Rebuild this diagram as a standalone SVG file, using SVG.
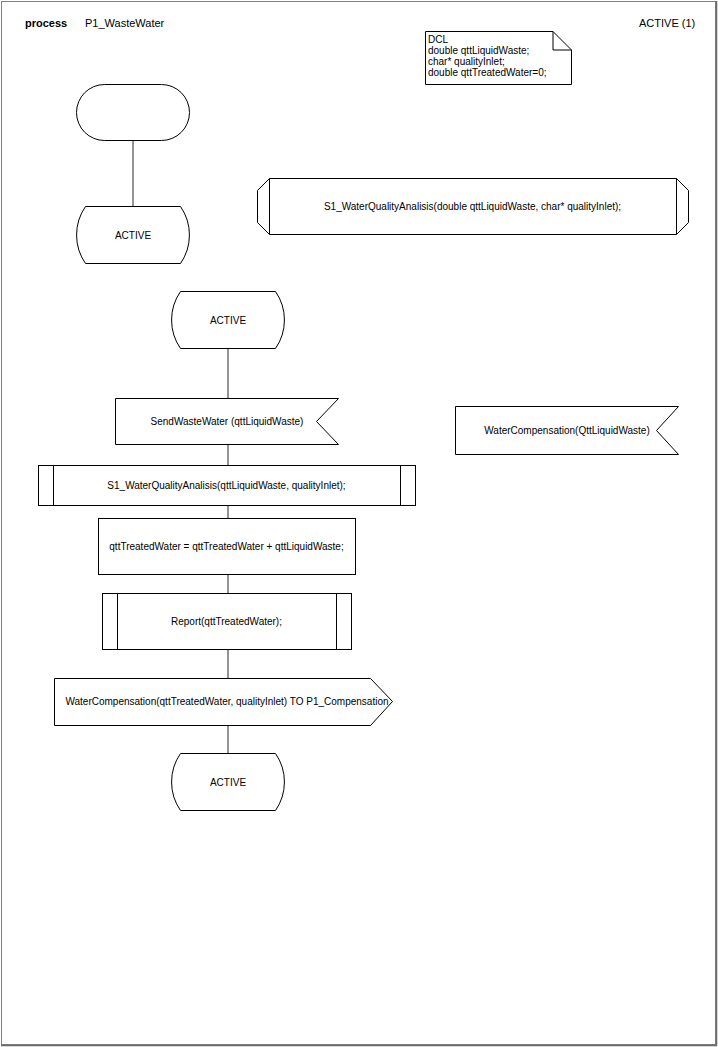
<svg xmlns="http://www.w3.org/2000/svg" width="718" height="1047" viewBox="0 0 718 1047">
<style>
.s{fill:#fff;stroke:#000;stroke-width:1}
.t{font-family:"Liberation Sans",Arial,sans-serif;font-size:10px;fill:#000;text-anchor:middle}
.l{font-family:"Liberation Sans",Arial,sans-serif;font-size:10px;fill:#000}
.h{font-family:"Liberation Sans",Arial,sans-serif;font-size:11px;fill:#000}
.c{fill:none;stroke:#707070;stroke-width:1.5}
</style>
<rect x="0" y="0" width="718" height="1047" fill="#fff"/>
<g id="frame">
<rect x="1.5" y="1.5" width="714" height="1043" fill="none" stroke="#808080" stroke-width="1"/>
<line x1="716.5" y1="1" x2="716.5" y2="1046" stroke="#6a6a6a" stroke-width="1.5"/>
<line x1="1" y1="1045.5" x2="717" y2="1045.5" stroke="#6a6a6a" stroke-width="1.5"/>
</g>
<g id="header">
<text class="h" x="25" y="27" font-weight="bold">process</text>
<text class="h" x="85" y="27">P1_WasteWater</text>
<text class="h" x="639" y="27">ACTIVE (1)</text>
</g>
<g id="connectors">
<line class="c" x1="133" y1="141" x2="133" y2="206"/>
<line class="c" x1="228" y1="348" x2="228" y2="398"/>
<line class="c" x1="228" y1="444" x2="228" y2="465"/>
<line class="c" x1="228" y1="506" x2="228" y2="518"/>
<line class="c" x1="228" y1="574" x2="228" y2="594"/>
<line class="c" x1="228" y1="650" x2="228" y2="678"/>
<line class="c" x1="228" y1="725" x2="228" y2="753"/>
</g>
<g id="dcl">
<path class="s" d="M425.5,31.5 H553 L571.5,50 V84.5 H425.5 Z"/>
<path fill="none" stroke="#000" d="M553,31.5 V50 H571.5"/>
<text class="l" x="428" y="43">DCL</text>
<text class="l" x="428" y="54">double qttLiquidWaste;</text>
<text class="l" x="428" y="64.5">char* qualityInlet;</text>
<text class="l" x="428" y="75.5">double qttTreatedWater=0;</text>
</g>
<g id="start">
<rect class="s" x="76.5" y="84.5" width="113" height="56" rx="28" ry="28"/>
</g>
<g id="state1">
<path class="s" d="M85.5,206.5 H180.5 A50 50 0 0 1 180.5,263.5 H85.5 A50 50 0 0 1 85.5,206.5 Z"/>
<text class="t" x="133" y="238.5">ACTIVE</text>
</g>
<g id="procdecl">
<path class="s" d="M269.5,178.5 H676.5 L688.5,190.5 V222.5 L676.5,234.5 H269.5 L257.5,222.5 V190.5 Z"/>
<path fill="none" stroke="#000" d="M269.5,178.5 V234.5 M676.5,178.5 V234.5"/>
<text class="t" x="472.5" y="210">S1_WaterQualityAnalisis(double qttLiquidWaste, char* qualityInlet);</text>
</g>
<g id="state2">
<path class="s" d="M180.5,291.5 H275.5 A50 50 0 0 1 275.5,348.5 H180.5 A50 50 0 0 1 180.5,291.5 Z"/>
<text class="t" x="228" y="323.5">ACTIVE</text>
</g>
<g id="input1">
<path class="s" d="M115.5,398.5 H338.5 L316.5,421.5 L338.5,444.5 H115.5 Z"/>
<text class="t" x="227" y="424.5">SendWasteWater (qttLiquidWaste)</text>
</g>
<g id="input2">
<path class="s" d="M455.5,406.5 H678.5 L656.5,430.5 L678.5,454.5 H455.5 Z"/>
<text class="t" x="567" y="434">WaterCompensation(QttLiquidWaste)</text>
</g>
<g id="call1">
<rect class="s" x="38.5" y="465.5" width="377" height="40"/>
<path fill="none" stroke="#000" d="M53.5,465.5 V505.5 M400.5,465.5 V505.5"/>
<text class="t" x="226.5" y="489">S1_WaterQualityAnalisis(qttLiquidWaste, qualityInlet);</text>
</g>
<g id="task">
<rect class="s" x="98.5" y="518.5" width="257" height="56"/>
<text class="t" x="226.5" y="549.5">qttTreatedWater = qttTreatedWater + qttLiquidWaste;</text>
</g>
<g id="call2">
<rect class="s" x="102.5" y="593.5" width="249" height="56"/>
<path fill="none" stroke="#000" d="M117.5,593.5 V649.5 M336.5,593.5 V649.5"/>
<text class="t" x="226.5" y="624.5">Report(qttTreatedWater);</text>
</g>
<g id="output">
<path class="s" d="M54.5,678.5 H370.5 L392.5,701.5 L370.5,725.5 H54.5 Z"/>
<text class="t" x="227" y="705">WaterCompensation(qttTreatedWater, qualityInlet) TO P1_Compensation</text>
</g>
<g id="state3">
<path class="s" d="M180.5,753.5 H275.5 A50 50 0 0 1 275.5,810.5 H180.5 A50 50 0 0 1 180.5,753.5 Z"/>
<text class="t" x="228" y="785.5">ACTIVE</text>
</g>
</svg>
